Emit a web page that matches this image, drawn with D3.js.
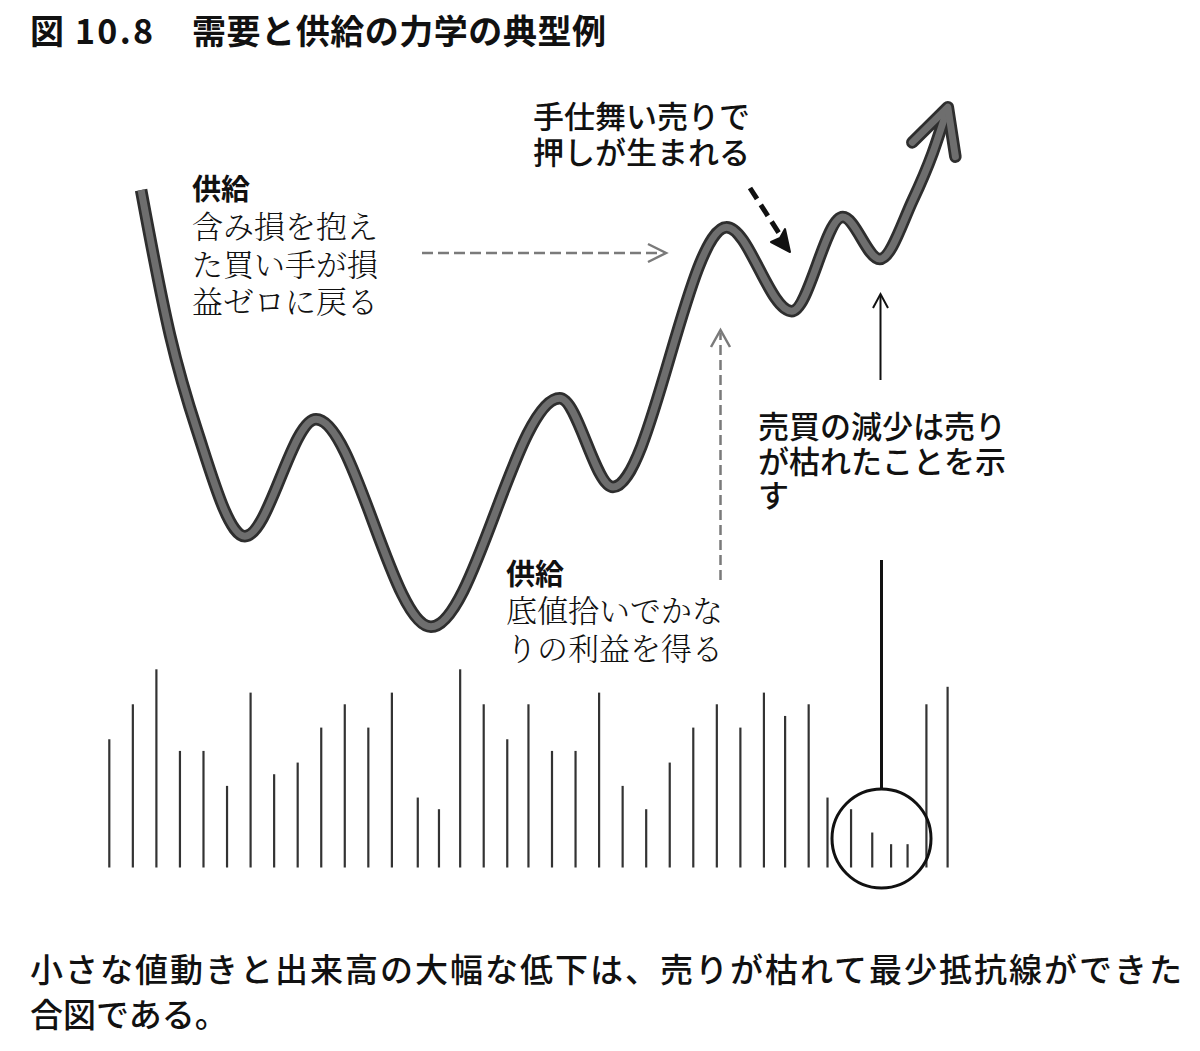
<!DOCTYPE html>
<html>
<head>
<meta charset="utf-8">
<script src="https://cdn.jsdelivr.net/npm/d3@7"></script>
<style>
  html, body { margin: 0; padding: 0; background: #fff; }
  svg { display: block; }
  .goth { font-family: "Noto Sans CJK JP", "Noto Sans CJK SC", sans-serif; fill: #111; }
  .mincho { font-family: "Noto Serif CJK JP", "Noto Sans CJK JP", serif; font-weight: 300; fill: #111; }
</style>
</head>
<body>
<svg id="chart" width="1200" height="1051"></svg>
<script>
// volume bars: session index and volume (units)
var volDays = [0, 1, 2, 3, 4, 5, 6, 7, 8, 9, 10, 11, 12, 13.1, 14, 14.9, 15.9, 16.9,
    17.8, 18.8, 19.8, 20.8, 21.8, 22.8, 23.8, 24.8, 25.8, 26.8, 27.8,
    28.7, 29.7, 30.5, 31.5, 32.4, 33.2, 33.9, 34.7, 35.6];
var volumes = [11, 14, 17, 10, 10, 7, 15, 8, 9, 12, 14, 12, 15, 6, 5, 17, 14, 11,
    14, 10, 10, 15, 7, 5, 9, 12, 14, 12, 15,
    13, 14, 6, 5, 3, 2, 2, 14, 15.5];

// price path: session index and price level
var priceDays = [1.35, 2.58, 3.72, 5.76, 8.78, 13.66, 19.13, 21.39,
    26.22, 28.98, 31.15, 32.72, 34.12, 34.97, 35.61];
var prices = [85, 60.8, 45, 27.3, 46.8, 12.2, 50.3, 35.5,
    78.8, 64.8, 80.5, 73.5, 83.3, 91.2, 98.8];

var title = ["図", "10.8", "需要と供給の力学の典型例"];
var caption = ["小さな値動きと出来高の大幅な低下は、売りが枯れて最少抵抗線ができた", "合図である。"];

var svg = d3.select("#chart");

var x = d3.scaleLinear().domain([0, 35.6]).range([109.3, 947.6]);
var yVol = d3.scaleLinear().domain([0, 17]).range([867.5, 669.3]);
var yPrice = d3.scaleLinear().domain([0, 100]).range([700, 100]);

// title
svg.append("text").attr("class", "goth")
    .attr("x", 30).attr("y", 44)
    .style("font-size", "34px").style("font-weight", 700)
    .text(title[0]);
svg.append("text").attr("class", "goth")
    .attr("x", 75).attr("y", 44)
    .attr("textLength", 78).attr("lengthAdjust", "spacing")
    .style("font-size", "34px").style("font-weight", 700)
    .text(title[1]);
svg.append("text").attr("class", "goth")
    .attr("x", 192).attr("y", 44)
    .attr("textLength", 414).attr("lengthAdjust", "spacing")
    .style("font-size", "34px").style("font-weight", 700)
    .text(title[2]);

// volume bars
svg.append("g").selectAll("line")
    .data(volumes)
    .enter().append("line")
    .attr("x1", function(d, i){ return x(volDays[i]); })
    .attr("x2", function(d, i){ return x(volDays[i]); })
    .attr("y1", yVol(0))
    .attr("y2", function(d){ return yVol(d); })
    .attr("stroke", "#333")
    .attr("stroke-width", 2.2);

// price curve
var pts = prices.map(function(p, i){ return [x(priceDays[i]), yPrice(p)]; });
var line = d3.line().curve(d3.curveMonotoneX);

var n = pts.length;
var tip = pts[n - 1], prev = pts[n - 2];
var bx = prev[0] - tip[0], by = prev[1] - tip[1];
var blen = Math.sqrt(bx * bx + by * by);
var ang = Math.atan2(by / blen, bx / blen);
var wing = 50, spread = 27 * Math.PI / 180;
var w1 = [tip[0] + wing * Math.cos(ang + spread), tip[1] + wing * Math.sin(ang + spread)];
var w2 = [tip[0] + wing * Math.cos(ang - spread), tip[1] + wing * Math.sin(ang - spread)];
var head = d3.line()([w1, tip, w2]);

[["#2e2e2e", 12.5], ["#6e6e6e", 7]].forEach(function(s){
    svg.append("path").attr("d", line(pts))
        .attr("fill", "none").attr("stroke", s[0]).attr("stroke-width", s[1])
        .attr("stroke-linecap", "butt").attr("stroke-linejoin", "round");
    svg.append("path").attr("d", head)
        .attr("fill", "none").attr("stroke", s[0]).attr("stroke-width", s[1])
        .attr("stroke-linecap", "round").attr("stroke-linejoin", "round");
});

// annotation arrows
function seg(pointsArr, color, width, dash){
    var p = svg.append("path").attr("d", d3.line()(pointsArr))
        .attr("fill", "none").attr("stroke", color).attr("stroke-width", width)
        .attr("stroke-linecap", "butt").attr("stroke-linejoin", "miter");
    if(dash){ p.attr("stroke-dasharray", dash); }
    return p;
}

// grey dashed, horizontal
seg([[422, 253], [662, 253]], "#7a7a7a", 2.5, "11,5");
seg([[648, 244], [666, 253], [648, 262]], "#7a7a7a", 2.5);
// grey dashed, vertical
seg([[720.5, 580], [720.5, 333]], "#7a7a7a", 2.5, "10,5");
seg([[711, 347], [720.5, 330], [730, 347]], "#7a7a7a", 2.5);
// black dashed, diagonal
seg([[750, 188], [784, 241]], "#111", 5, "13,7");
svg.append("path").attr("d", d3.line()([[790, 252], [771, 242], [780, 238], [785, 229]]) + "Z")
    .attr("fill", "#111").attr("stroke", "#111").attr("stroke-width", 2)
    .attr("stroke-linejoin", "round");
// thin black up arrow
seg([[880.5, 380], [880.5, 296]], "#111", 2);
seg([[873, 308], [880.5, 294], [888, 308]], "#111", 2);
// line down to circled volume
seg([[881.5, 560], [881.5, 789]], "#111", 3);
svg.append("circle").attr("cx", 881.5).attr("cy", 838.5).attr("r", 49.5)
    .attr("fill", "none").attr("stroke", "#111").attr("stroke-width", 3);

// labels (one text element per block, one tspan per line)
function label(lines, x0, y0, lh, cls, size, weight){
    var el = svg.append("text").attr("class", cls)
        .style("font-size", size + "px");
    if(weight){ el.style("font-weight", weight); }
    lines.forEach(function(t, i){
        el.append("tspan").attr("x", x0).attr("y", y0 + i * lh).text(t);
    });
}

label(["供給"], 192, 200, 0, "goth", 29, 700);
label(["含み損を抱え", "た買い手が損", "益ゼロに戻る"], 192, 238, 37.5, "mincho", 31);

label(["供給"], 506, 585, 0, "goth", 29, 700);
label(["底値拾いでかな", "りの利益を得る"], 506, 622, 38, "mincho", 31);

label(["手仕舞い売りで", "押しが生まれる"], 533, 128, 35.5, "goth", 31, 500);

label(["売買の減少は売り", "が枯れたことを示", "す"], 758, 438, 34.5, "goth", 31, 500);

// caption
svg.append("text").attr("class", "goth")
    .attr("x", 30).attr("y", 982)
    .attr("textLength", 1152).attr("lengthAdjust", "spacing")
    .style("font-size", "33px").style("font-weight", 500)
    .text(caption[0]);
svg.append("text").attr("class", "goth")
    .attr("x", 30).attr("y", 1027)
    .style("font-size", "33px").style("font-weight", 500)
    .text(caption[1]);
</script>
</body>
</html>
